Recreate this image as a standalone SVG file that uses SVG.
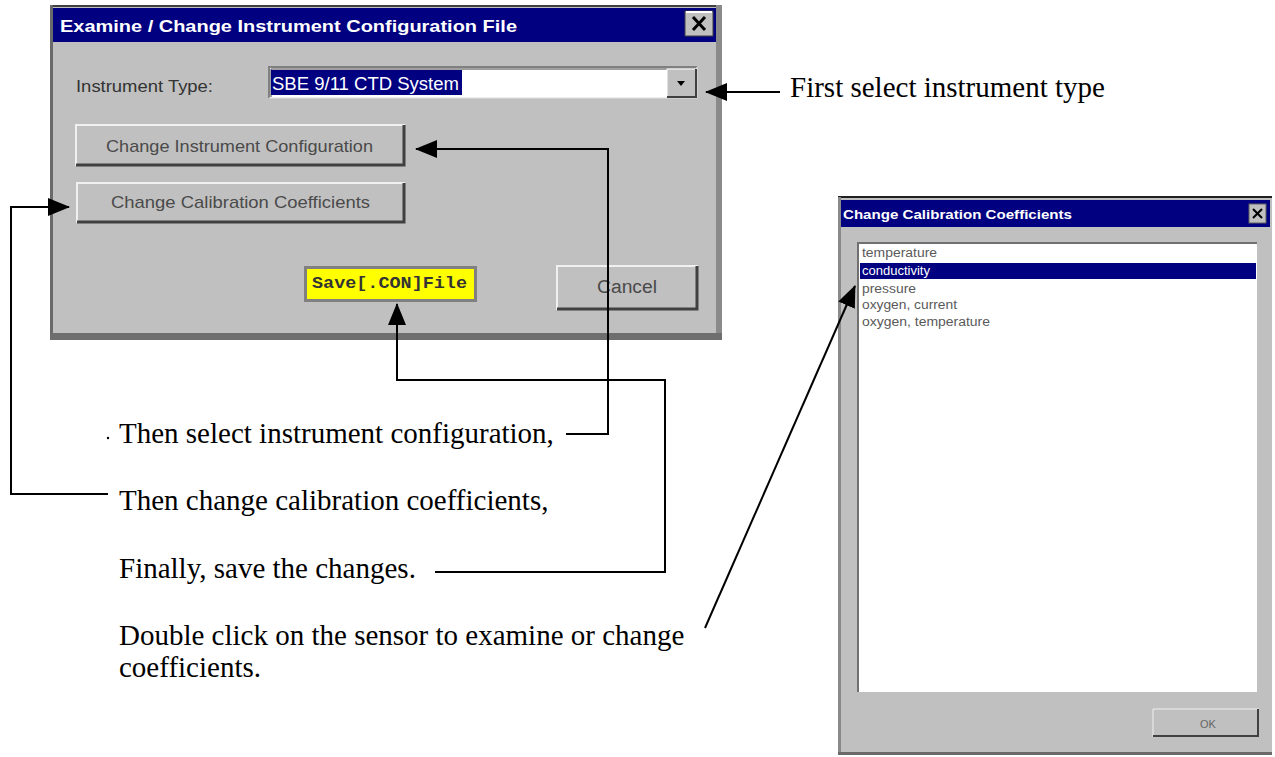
<svg xmlns="http://www.w3.org/2000/svg" width="1275" height="757" viewBox="0 0 1275 757">
<style>
.ui{font-family:"Liberation Sans",Arial,sans-serif;}
.ttl{font-family:"Liberation Sans",Arial,sans-serif;font-weight:bold;fill:#ffffff;}
.btn{font-family:"Liberation Sans",Arial,sans-serif;fill:#4a4a4a;}
.note{font-family:"Liberation Serif","Times New Roman",serif;font-size:29px;fill:#000;}
.item{font-family:"Liberation Sans",Arial,sans-serif;font-size:12px;fill:#5a5a5a;}
.conn{fill:none;stroke:#000;stroke-width:2;}
</style>
<defs>
<marker id="ah" markerUnits="userSpaceOnUse" markerWidth="22" markerHeight="18" refX="21" refY="9" orient="auto">
<path d="M0,0 L22,9 L0,18 z" fill="#000"/>
</marker>
</defs>
<rect width="1275" height="757" fill="#ffffff"/>

<g id="main-dialog">
<rect x="50" y="5" width="672" height="335" fill="#c0c0c0"/>
<rect x="50" y="5" width="672" height="2" fill="#404040"/>
<rect x="50" y="5" width="3" height="335" fill="#6a6a6a"/>
<rect x="716" y="5" width="6" height="335" fill="#8a8a8a"/>
<rect x="50" y="333" width="672" height="7" fill="#6e6e6e"/>
<rect x="53" y="8" width="663" height="34" fill="#000080"/>
<text class="ttl" x="60" y="32" font-size="17" textLength="457" lengthAdjust="spacingAndGlyphs">Examine / Change Instrument Configuration File</text>
<g id="close-btn">
<rect x="685" y="11" width="28" height="25" fill="#c0c0c0" stroke="#404040" stroke-width="1"/>
<line x1="686" y1="12" x2="712" y2="12" stroke="#fff" stroke-width="2"/>
<path d="M693,17 L705,30 M705,17 L693,30" stroke="#000" stroke-width="3"/>
</g>
<text class="ui" x="76" y="92" font-size="17" fill="#333" textLength="137" lengthAdjust="spacingAndGlyphs">Instrument Type:</text>
<g id="combo">
<rect x="269" y="67" width="428" height="31" fill="#ffffff"/>
<path d="M269,98 V67 H697" fill="none" stroke="#808080" stroke-width="2"/>
<path d="M271,97 V69 H696" fill="none" stroke="#404040" stroke-width="1"/>
<path d="M269,98 H697 V67" fill="none" stroke="#dfdfdf" stroke-width="1"/>
<rect x="271" y="70" width="191" height="25" fill="#000080"/>
<text class="ui" x="272" y="90" font-size="18" fill="#ffffff" textLength="187" lengthAdjust="spacingAndGlyphs">SBE 9/11 CTD System</text>
<rect x="667" y="69" width="29" height="28" fill="#c0c0c0"/>
<path d="M667,97 V69 H696" fill="none" stroke="#fff" stroke-width="1"/>
<path d="M667,97 H696 V69" fill="none" stroke="#404040" stroke-width="2"/>
<path d="M677,81 L685,81 L681,86 z" fill="#000"/>
</g>
<g id="btn-config">
<rect x="76" y="125" width="329" height="41" fill="#c0c0c0"/>
<path d="M76,166 V125 H405" fill="none" stroke="#f0f0f0" stroke-width="2"/>
<path d="M76,165 H404 V125" fill="none" stroke="#404040" stroke-width="3"/>
<text class="btn" x="106" y="152" font-size="17" textLength="267" lengthAdjust="spacingAndGlyphs">Change Instrument Configuration</text>
</g>
<g id="btn-calib">
<rect x="77" y="183" width="328" height="40" fill="#c0c0c0"/>
<path d="M77,223 V183 H405" fill="none" stroke="#f0f0f0" stroke-width="2"/>
<path d="M77,222 H404 V183" fill="none" stroke="#404040" stroke-width="3"/>
<text class="btn" x="111" y="208" font-size="17" textLength="259" lengthAdjust="spacingAndGlyphs">Change Calibration Coefficients</text>
</g>
<g id="btn-save">
<rect x="304" y="266" width="173" height="36" fill="#808080"/>
<rect x="307" y="269" width="167" height="30" fill="#ffff00"/>
<text x="312" y="288" font-family="'Liberation Mono','Courier New',monospace" font-weight="bold" font-size="17" fill="#333" textLength="155" lengthAdjust="spacingAndGlyphs">Save[.CON]File</text>
</g>
<g id="btn-cancel">
<rect x="557" y="266" width="141" height="44" fill="#c0c0c0"/>
<path d="M557,310 V266 H698" fill="none" stroke="#f0f0f0" stroke-width="2"/>
<path d="M557,309 H697 V266" fill="none" stroke="#404040" stroke-width="3"/>
<text class="btn" x="597" y="293" font-size="18" fill="#555" textLength="60" lengthAdjust="spacingAndGlyphs">Cancel</text>
</g>
</g>

<g id="calib-dialog">
<rect x="838" y="197" width="434" height="558" fill="#c0c0c0"/>
<rect x="838" y="196" width="434" height="2" fill="#202020"/>
<rect x="838" y="197" width="3" height="558" fill="#8a8a8a"/>
<rect x="838" y="752" width="434" height="3" fill="#6a6a6a"/>
<rect x="841" y="200" width="429" height="27" fill="#000080"/>
<text class="ttl" x="843" y="219" font-size="13" textLength="229" lengthAdjust="spacingAndGlyphs">Change Calibration Coefficients</text>
<g id="close-btn-2">
<rect x="1249" y="204" width="17" height="19" fill="#c0c0c0" stroke="#606060" stroke-width="1"/>
<path d="M1253,209 L1262,218 M1262,209 L1253,218" stroke="#000" stroke-width="2"/>
</g>
<g id="sensor-list">
<rect x="858" y="243" width="399" height="449" fill="#ffffff"/>
<path d="M858,692 V243 H1257" fill="none" stroke="#707070" stroke-width="2"/>
<rect x="860" y="263" width="396" height="16" fill="#000080"/>
<text class="item" x="862" y="257" textLength="75" lengthAdjust="spacingAndGlyphs">temperature</text>
<text class="item" x="862" y="275" style="fill:#ffffff" textLength="68" lengthAdjust="spacingAndGlyphs">conductivity</text>
<text class="item" x="862" y="293" textLength="54" lengthAdjust="spacingAndGlyphs">pressure</text>
<text class="item" x="862" y="309" textLength="95" lengthAdjust="spacingAndGlyphs">oxygen, current</text>
<text class="item" x="862" y="326" textLength="128" lengthAdjust="spacingAndGlyphs">oxygen, temperature</text>
</g>
<g id="btn-ok">
<rect x="1153" y="709" width="106" height="28" fill="#c0c0c0"/>
<path d="M1153,737 V709 H1259" fill="none" stroke="#f0f0f0" stroke-width="1"/>
<path d="M1153,736 H1258 V709" fill="none" stroke="#404040" stroke-width="2"/>
<text class="ui" x="1208" y="728" font-size="11" fill="#666" text-anchor="middle">OK</text>
</g>
</g>

<g id="notes">
<text class="note" x="790" y="97">First select instrument type</text>
<circle cx="108" cy="438" r="1.2" fill="#000"/>
<text class="note" x="119" y="443">Then select instrument configuration,</text>
<text class="note" x="119" y="510">Then change calibration coefficients,</text>
<text class="note" x="119" y="578">Finally, save the changes.</text>
<text class="note" x="119" y="645">Double click on the sensor to examine or change</text>
<text class="note" x="119" y="677">coefficients.</text>
</g>

<g id="connectors">
<path class="conn" d="M780,92 H706" marker-end="url(#ah)"/>
<path class="conn" d="M566,434 H608 V149 H416" marker-end="url(#ah)"/>
<path class="conn" d="M108,494 H11 V207 H69" marker-end="url(#ah)"/>
<path class="conn" d="M435,572 H665 V380 H397 V304" marker-end="url(#ah)"/>
<path class="conn" d="M705,628 L855,286" stroke-width="1.5" marker-end="url(#ah)"/>
</g>
</svg>
